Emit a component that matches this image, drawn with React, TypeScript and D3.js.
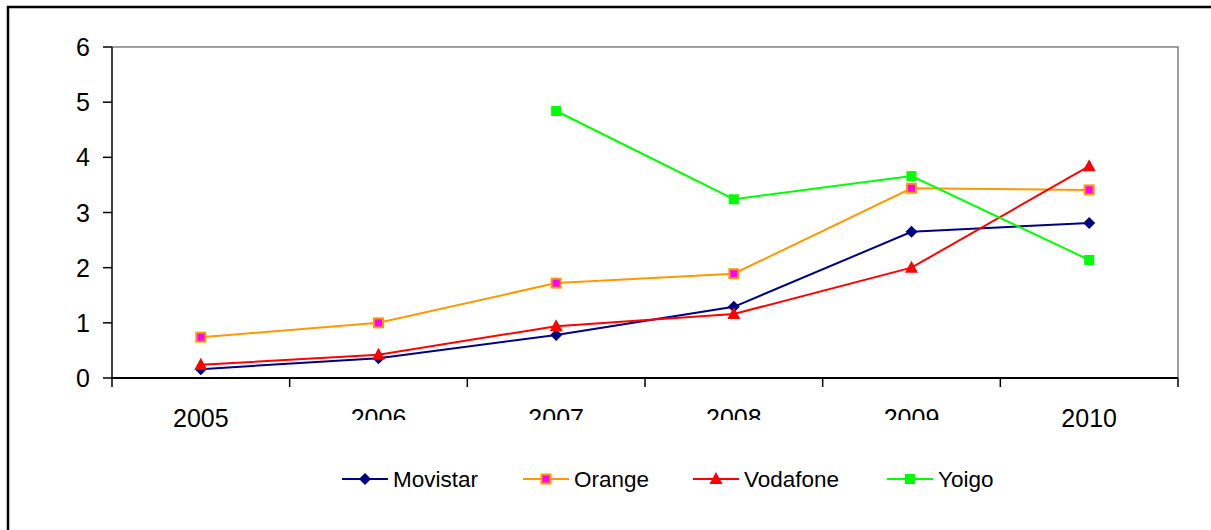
import React, { useEffect, useRef } from 'react';
import * as d3 from 'd3';

const years = ['2005', '2006', '2007', '2008', '2009', '2010'];
const movistar = [0.16, 0.36, 0.78, 1.29, 2.65, 2.81];
const orange = [0.74, 1.0, 1.72, 1.89, 3.44, 3.41];
const vodafone = [0.24, 0.42, 0.94, 1.16, 2.0, 3.84];
const yoigo = [null, null, 4.84, 3.24, 3.66, 2.14];
const yTicks = [0, 1, 2, 3, 4, 5, 6];

const series = [
  { name: 'Movistar', values: movistar, color: '#000080', marker: 'diamond', fill: '#000080' },
  { name: 'Orange', values: orange, color: '#FF9900', marker: 'square', fill: '#FF00FF' },
  { name: 'Vodafone', values: vodafone, color: '#FF0000', marker: 'triangle', fill: '#FF0000' },
  { name: 'Yoigo', values: yoigo, color: '#00FF00', marker: 'square', fill: '#00FF00' },
];

const App = () => {
  const svgRef = useRef(null);

  useEffect(() => {
    const svg = d3.select(svgRef.current);
    svg.selectAll('*').remove();

    const font = '"Liberation Sans", Arial, sans-serif';
    const plot = { left: 112, top: 47, right: 1178, bottom: 378 };

    // outer chart frame (runs off the right and bottom edges)
    svg.append('rect')
      .attr('x', 8).attr('y', 7)
      .attr('width', 1300).attr('height', 600)
      .attr('fill', '#fff').attr('stroke', '#000').attr('stroke-width', 2.5);

    const x = d3.scaleBand().domain(years).range([plot.left, plot.right]);
    const y = d3.scaleLinear().domain([0, 6]).range([plot.bottom, plot.top]);

    // plot area: grey top/right edges
    svg.append('path')
      .attr('d', `M${plot.left},${plot.top}H${plot.right}V${plot.bottom}`)
      .attr('fill', 'none').attr('stroke', '#808080').attr('stroke-width', 1.5);

    // y axis
    svg.append('line')
      .attr('x1', plot.left).attr('x2', plot.left)
      .attr('y1', plot.top).attr('y2', plot.bottom)
      .attr('stroke', '#000').attr('stroke-width', 1.5);
    yTicks.forEach(t => {
      svg.append('line')
        .attr('x1', plot.left - 9).attr('x2', plot.left)
        .attr('y1', y(t)).attr('y2', y(t))
        .attr('stroke', '#000').attr('stroke-width', 1.5);
      svg.append('text')
        .attr('x', 90).attr('y', y(t))
        .attr('dy', '0.36em')
        .attr('text-anchor', 'end')
        .attr('font-family', font).attr('font-size', 25)
        .text(t);
    });

    // x axis
    svg.append('line')
      .attr('x1', plot.left).attr('x2', plot.right)
      .attr('y1', plot.bottom).attr('y2', plot.bottom)
      .attr('stroke', '#000').attr('stroke-width', 2);
    const edges = years.map(d => x(d)).concat([plot.right]);
    edges.forEach(e => {
      svg.append('line')
        .attr('x1', e).attr('x2', e)
        .attr('y1', plot.bottom).attr('y2', plot.bottom + 9)
        .attr('stroke', '#000').attr('stroke-width', 1.5);
    });

    // middle labels are cut off at the bottom in the original
    svg.append('clipPath').attr('id', 'labelClip')
      .append('rect').attr('x', 0).attr('y', 0).attr('width', 1211).attr('height', 420);

    years.forEach((yr, i) => {
      const clipped = i > 0 && i < years.length - 1;
      svg.append('text')
        .attr('x', x(yr) + x.bandwidth() / 2)
        .attr('y', 427)
        .attr('text-anchor', 'middle')
        .attr('font-family', font).attr('font-size', 25)
        .attr('clip-path', clipped ? 'url(#labelClip)' : null)
        .text(yr);
    });

    const cx = d => x(d) + x.bandwidth() / 2;

    const drawMarker = (g, s, px, py) => {
      if (s.marker === 'diamond') {
        g.append('path')
          .attr('d', `M${px},${py - 6}L${px + 6},${py}L${px},${py + 6}L${px - 6},${py}Z`)
          .attr('fill', s.fill);
      } else if (s.marker === 'triangle') {
        g.append('path')
          .attr('d', `M${px},${py - 7}L${px + 6.5},${py + 5}L${px - 6.5},${py + 5}Z`)
          .attr('fill', s.fill);
      } else if (s.name === 'Orange') {
        g.append('rect')
          .attr('x', px - 4.5).attr('y', py - 4.5).attr('width', 9).attr('height', 9)
          .attr('fill', s.fill).attr('stroke', s.color).attr('stroke-width', 2);
      } else {
        g.append('rect')
          .attr('x', px - 5).attr('y', py - 5).attr('width', 10).attr('height', 10)
          .attr('fill', s.fill);
      }
    };

    const line = d3.line()
      .defined(d => d.v != null)
      .x(d => cx(d.year))
      .y(d => y(d.v));

    series.forEach(s => {
      const pts = years.map((yr, i) => ({ year: yr, v: s.values[i] }));
      const g = svg.append('g');
      g.append('path')
        .datum(pts)
        .attr('d', line)
        .attr('fill', 'none')
        .attr('stroke', s.color)
        .attr('stroke-width', 2);
      pts.filter(p => p.v != null).forEach(p => drawMarker(g, s, cx(p.year), y(p.v)));
    });

    // legend
    const legendX = [342, 523, 693, 887];
    const ly = 479;
    series.forEach((s, i) => {
      const g = svg.append('g');
      const lx = legendX[i];
      g.append('line')
        .attr('x1', lx).attr('x2', lx + 46)
        .attr('y1', ly).attr('y2', ly)
        .attr('stroke', s.color).attr('stroke-width', 2);
      drawMarker(g, s, lx + 23, ly);
      g.append('text')
        .attr('x', lx + 51).attr('y', ly)
        .attr('dy', '0.36em')
        .attr('font-family', font).attr('font-size', 22.5)
        .text(s.name);
    });
  }, []);

  return (
    <svg
      ref={svgRef}
      width={1211}
      height={530}
      style={{ position: 'fixed', left: 0, top: 0, display: 'block', background: '#fff' }}
    />
  );
};

export default App;
